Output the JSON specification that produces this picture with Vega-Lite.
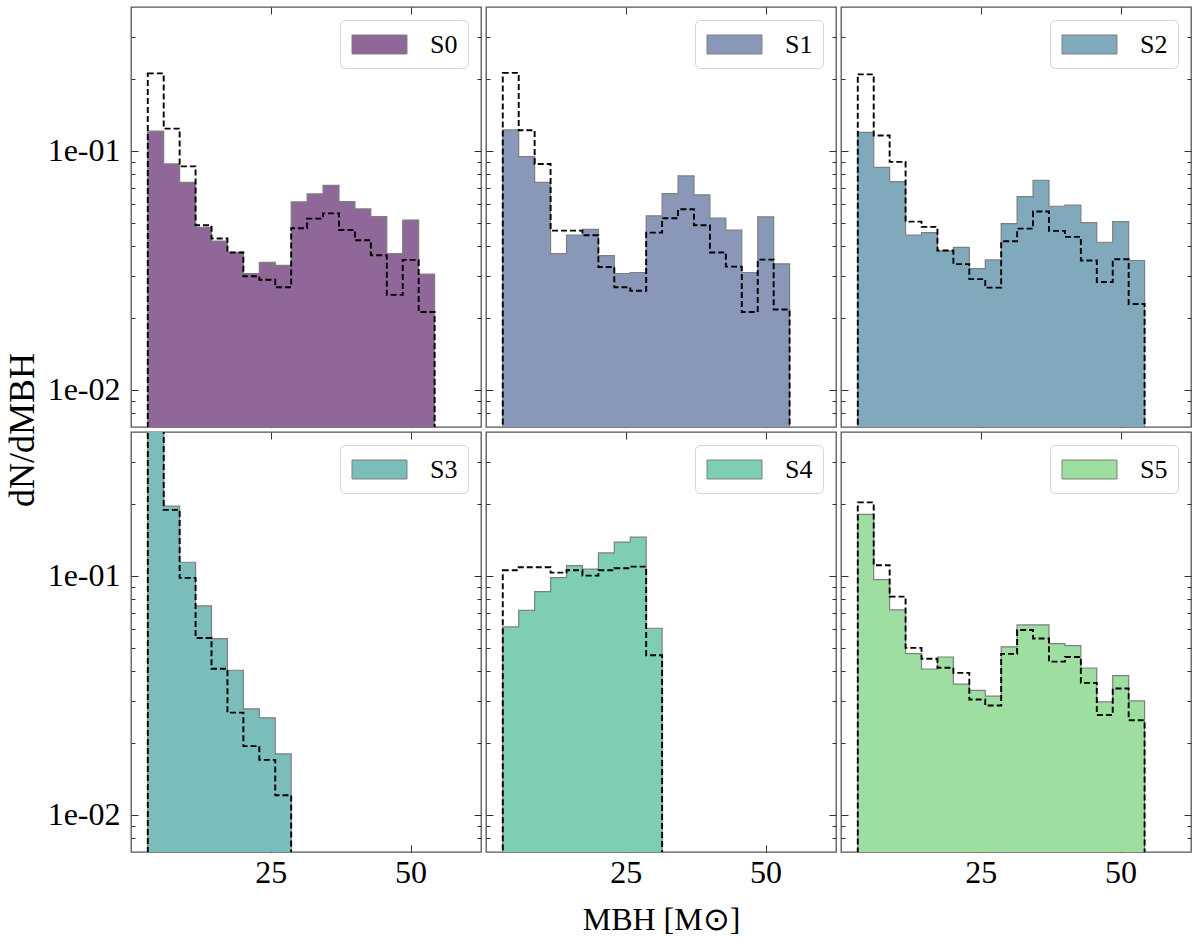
{
  "$schema": "https://vega.github.io/schema/vega-lite/v6.json",
  "background": "white",
  "padding": {"left": 3, "top": 5, "right": 9, "bottom": 8},
  "data": {
    "values": [
      {"run": "S0", "mass": 3, "hist": 0.121, "ref": 0.211},
      {"run": "S0", "mass": 5.85, "hist": 0.0882, "ref": 0.124},
      {"run": "S0", "mass": 8.7, "hist": 0.0739, "ref": 0.0862},
      {"run": "S0", "mass": 11.55, "hist": 0.0479, "ref": 0.0489},
      {"run": "S0", "mass": 14.4, "hist": 0.042, "ref": 0.043},
      {"run": "S0", "mass": 17.25, "hist": 0.0376, "ref": 0.0376},
      {"run": "S0", "mass": 20.1, "hist": 0.0307, "ref": 0.0299},
      {"run": "S0", "mass": 22.95, "hist": 0.0342, "ref": 0.0289},
      {"run": "S0", "mass": 25.8, "hist": 0.0332, "ref": 0.0269},
      {"run": "S0", "mass": 28.65, "hist": 0.0612, "ref": 0.0475},
      {"run": "S0", "mass": 31.5, "hist": 0.0661, "ref": 0.0521},
      {"run": "S0", "mass": 34.35, "hist": 0.0718, "ref": 0.0548},
      {"run": "S0", "mass": 37.2, "hist": 0.0614, "ref": 0.0467},
      {"run": "S0", "mass": 40.05, "hist": 0.0572, "ref": 0.0423},
      {"run": "S0", "mass": 42.9, "hist": 0.0531, "ref": 0.0366},
      {"run": "S0", "mass": 45.75, "hist": 0.0372, "ref": 0.025},
      {"run": "S0", "mass": 48.6, "hist": 0.0514, "ref": 0.035},
      {"run": "S0", "mass": 51.45, "hist": 0.0305, "ref": 0.0212},
      {"run": "S0", "mass": 54.3, "hist": 0.001, "ref": 0.001},

      {"run": "S1", "mass": 3, "hist": 0.1224, "ref": 0.212},
      {"run": "S1", "mass": 5.85, "hist": 0.0947, "ref": 0.122},
      {"run": "S1", "mass": 8.7, "hist": 0.0739, "ref": 0.0882},
      {"run": "S1", "mass": 11.55, "hist": 0.0372, "ref": 0.0464},
      {"run": "S1", "mass": 14.4, "hist": 0.0445, "ref": 0.0464},
      {"run": "S1", "mass": 17.25, "hist": 0.047, "ref": 0.0444},
      {"run": "S1", "mass": 20.1, "hist": 0.0365, "ref": 0.0327},
      {"run": "S1", "mass": 22.95, "hist": 0.0307, "ref": 0.0269},
      {"run": "S1", "mass": 25.8, "hist": 0.031, "ref": 0.026},
      {"run": "S1", "mass": 28.65, "hist": 0.0535, "ref": 0.0455},
      {"run": "S1", "mass": 31.5, "hist": 0.0663, "ref": 0.0523},
      {"run": "S1", "mass": 34.35, "hist": 0.0786, "ref": 0.057},
      {"run": "S1", "mass": 37.2, "hist": 0.0655, "ref": 0.0489},
      {"run": "S1", "mass": 40.05, "hist": 0.0523, "ref": 0.0376},
      {"run": "S1", "mass": 42.9, "hist": 0.0466, "ref": 0.0328},
      {"run": "S1", "mass": 45.75, "hist": 0.031, "ref": 0.0212},
      {"run": "S1", "mass": 48.6, "hist": 0.053, "ref": 0.0351},
      {"run": "S1", "mass": 51.45, "hist": 0.0337, "ref": 0.0217},
      {"run": "S1", "mass": 54.3, "hist": 0.001, "ref": 0.001},

      {"run": "S2", "mass": 3, "hist": 0.1196, "ref": 0.209},
      {"run": "S2", "mass": 5.85, "hist": 0.0854, "ref": 0.116},
      {"run": "S2", "mass": 8.7, "hist": 0.0744, "ref": 0.09},
      {"run": "S2", "mass": 11.55, "hist": 0.0445, "ref": 0.0506},
      {"run": "S2", "mass": 14.4, "hist": 0.0455, "ref": 0.0481},
      {"run": "S2", "mass": 17.25, "hist": 0.0382, "ref": 0.0383},
      {"run": "S2", "mass": 20.1, "hist": 0.0395, "ref": 0.0336},
      {"run": "S2", "mass": 22.95, "hist": 0.0322, "ref": 0.0291},
      {"run": "S2", "mass": 25.8, "hist": 0.035, "ref": 0.0268},
      {"run": "S2", "mass": 28.65, "hist": 0.0496, "ref": 0.0419},
      {"run": "S2", "mass": 31.5, "hist": 0.0644, "ref": 0.0473},
      {"run": "S2", "mass": 34.35, "hist": 0.0754, "ref": 0.0558},
      {"run": "S2", "mass": 37.2, "hist": 0.0587, "ref": 0.0463},
      {"run": "S2", "mass": 40.05, "hist": 0.0594, "ref": 0.0437},
      {"run": "S2", "mass": 42.9, "hist": 0.0501, "ref": 0.0348},
      {"run": "S2", "mass": 45.75, "hist": 0.0415, "ref": 0.0283},
      {"run": "S2", "mass": 48.6, "hist": 0.0506, "ref": 0.0352},
      {"run": "S2", "mass": 51.45, "hist": 0.0348, "ref": 0.0229},
      {"run": "S2", "mass": 54.3, "hist": 0.001, "ref": 0.001},

      {"run": "S3", "mass": 3, "hist": 0.55, "ref": 0.6},
      {"run": "S3", "mass": 5.85, "hist": 0.1957, "ref": 0.189},
      {"run": "S3", "mass": 8.7, "hist": 0.1141, "ref": 0.0981},
      {"run": "S3", "mass": 11.55, "hist": 0.0749, "ref": 0.055},
      {"run": "S3", "mass": 14.4, "hist": 0.0547, "ref": 0.0409},
      {"run": "S3", "mass": 17.25, "hist": 0.0403, "ref": 0.0268},
      {"run": "S3", "mass": 20.1, "hist": 0.0278, "ref": 0.0194},
      {"run": "S3", "mass": 22.95, "hist": 0.0255, "ref": 0.017},
      {"run": "S3", "mass": 25.8, "hist": 0.018, "ref": 0.0121},
      {"run": "S3", "mass": 28.65, "hist": 0.001, "ref": 0.001},

      {"run": "S4", "mass": 3, "hist": 0.0612, "ref": 0.1056},
      {"run": "S4", "mass": 5.85, "hist": 0.0718, "ref": 0.1087},
      {"run": "S4", "mass": 8.7, "hist": 0.086, "ref": 0.1087},
      {"run": "S4", "mass": 11.55, "hist": 0.0984, "ref": 0.1032},
      {"run": "S4", "mass": 14.4, "hist": 0.1105, "ref": 0.1056},
      {"run": "S4", "mass": 17.25, "hist": 0.1067, "ref": 0.1003},
      {"run": "S4", "mass": 20.1, "hist": 0.1248, "ref": 0.1056},
      {"run": "S4", "mass": 22.95, "hist": 0.1384, "ref": 0.1077},
      {"run": "S4", "mass": 25.8, "hist": 0.1452, "ref": 0.1094},
      {"run": "S4", "mass": 28.65, "hist": 0.0604, "ref": 0.0466},
      {"run": "S4", "mass": 31.5, "hist": 0.001, "ref": 0.001},

      {"run": "S5", "mass": 3, "hist": 0.181, "ref": 0.203},
      {"run": "S5", "mass": 5.85, "hist": 0.0965, "ref": 0.1108},
      {"run": "S5", "mass": 8.7, "hist": 0.0721, "ref": 0.0819},
      {"run": "S5", "mass": 11.55, "hist": 0.0473, "ref": 0.05},
      {"run": "S5", "mass": 14.4, "hist": 0.0408, "ref": 0.045},
      {"run": "S5", "mass": 17.25, "hist": 0.0458, "ref": 0.0413},
      {"run": "S5", "mass": 20.1, "hist": 0.0353, "ref": 0.0393},
      {"run": "S5", "mass": 22.95, "hist": 0.0332, "ref": 0.0304},
      {"run": "S5", "mass": 25.8, "hist": 0.0314, "ref": 0.0287},
      {"run": "S5", "mass": 28.65, "hist": 0.0505, "ref": 0.0472},
      {"run": "S5", "mass": 31.5, "hist": 0.0624, "ref": 0.0594},
      {"run": "S5", "mass": 34.35, "hist": 0.0624, "ref": 0.0547},
      {"run": "S5", "mass": 37.2, "hist": 0.0521, "ref": 0.0438},
      {"run": "S5", "mass": 40.05, "hist": 0.0511, "ref": 0.0458},
      {"run": "S5", "mass": 42.9, "hist": 0.0412, "ref": 0.0357},
      {"run": "S5", "mass": 45.75, "hist": 0.0297, "ref": 0.0262},
      {"run": "S5", "mass": 48.6, "hist": 0.0383, "ref": 0.0338},
      {"run": "S5", "mass": 51.45, "hist": 0.03, "ref": 0.0249},
      {"run": "S5", "mass": 54.3, "hist": 0.001, "ref": 0.001}
    ]
  },
  "columns": 3,
  "spacing": {"row": 5, "column": 5},
  "bounds": "flush",
  "resolve": {"scale": {"fill": "independent"}, "legend": {"fill": "independent"}},
  "concat": [
    {
      "width": 350,
      "height": 420,
      "transform": [{"filter": "datum.run === 'S0'"}],
      "layer": [
        {
          "mark": {"type": "area", "interpolate": "step-after", "stroke": "#7f7f7f", "strokeWidth": 1.2, "clip": true},
          "encoding": {
            "x": {"field": "mass", "type": "quantitative", "scale": {"domain": [0, 62.6], "nice": false, "zero": false},
                  "axis": {"orient": "bottom", "values": [25, 50], "tickSize": -7, "labels": false, "title": null}},
            "y": {"field": "hist", "type": "quantitative", "stack": null, "scale": {"type": "log", "domain": [0.007, 0.4], "nice": false},
                  "axis": {"orient": "left", "values": [0.008, 0.009, 0.01, 0.02, 0.03, 0.04, 0.05, 0.06, 0.07, 0.08, 0.09, 0.1, 0.2, 0.3],
                           "tickSize": {"condition": {"test": "datum.value == 0.1 || datum.value == 0.01", "value": -7}, "value": -4},
                           "labelExpr": "datum.value == 0.1 ? '1e-01' : datum.value == 0.01 ? '1e-02' : ''",
                           "labelOverlap": false, "labelPadding": 18, "labels": true, "title": null}},
            "y2": {"datum": 0.001},
            "fill": {"datum": "S0", "scale": {"range": ["#8f6798"]}, "legend": {"title": null}}
          }
        },
        {
          "mark": {"type": "area", "interpolate": "step-after", "fillOpacity": 0, "stroke": "black", "strokeWidth": 1.9, "strokeDash": [6, 3], "clip": true},
          "encoding": {
            "x": {"field": "mass", "type": "quantitative", "axis": {"orient": "top", "values": [25, 50], "tickSize": -7, "labels": false, "title": null}},
            "y": {"field": "ref", "type": "quantitative", "stack": null,
                  "axis": {"orient": "right", "values": [0.008, 0.009, 0.01, 0.02, 0.03, 0.04, 0.05, 0.06, 0.07, 0.08, 0.09, 0.1, 0.2, 0.3],
                           "tickSize": {"condition": {"test": "datum.value == 0.1 || datum.value == 0.01", "value": -7}, "value": -4},
                           "labels": false, "title": null}},
            "y2": {"datum": 0.001}
          }
        }
      ],
      "resolve": {"axis": {"x": "independent", "y": "independent"}}
    },
    {
      "width": 350,
      "height": 420,
      "transform": [{"filter": "datum.run === 'S1'"}],
      "layer": [
        {
          "mark": {"type": "area", "interpolate": "step-after", "stroke": "#7f7f7f", "strokeWidth": 1.2, "clip": true},
          "encoding": {
            "x": {"field": "mass", "type": "quantitative", "scale": {"domain": [0, 62.6], "nice": false, "zero": false},
                  "axis": {"orient": "bottom", "values": [25, 50], "tickSize": -7, "labels": false, "title": null}},
            "y": {"field": "hist", "type": "quantitative", "stack": null, "scale": {"type": "log", "domain": [0.007, 0.4], "nice": false},
                  "axis": {"orient": "left", "values": [0.008, 0.009, 0.01, 0.02, 0.03, 0.04, 0.05, 0.06, 0.07, 0.08, 0.09, 0.1, 0.2, 0.3],
                           "tickSize": {"condition": {"test": "datum.value == 0.1 || datum.value == 0.01", "value": -7}, "value": -4},
                           "labels": false, "title": null}},
            "y2": {"datum": 0.001},
            "fill": {"datum": "S1", "scale": {"range": ["#8997b9"]}, "legend": {"title": null}}
          }
        },
        {
          "mark": {"type": "area", "interpolate": "step-after", "fillOpacity": 0, "stroke": "black", "strokeWidth": 1.9, "strokeDash": [6, 3], "clip": true},
          "encoding": {
            "x": {"field": "mass", "type": "quantitative", "axis": {"orient": "top", "values": [25, 50], "tickSize": -7, "labels": false, "title": null}},
            "y": {"field": "ref", "type": "quantitative", "stack": null,
                  "axis": {"orient": "right", "values": [0.008, 0.009, 0.01, 0.02, 0.03, 0.04, 0.05, 0.06, 0.07, 0.08, 0.09, 0.1, 0.2, 0.3],
                           "tickSize": {"condition": {"test": "datum.value == 0.1 || datum.value == 0.01", "value": -7}, "value": -4},
                           "labels": false, "title": null}},
            "y2": {"datum": 0.001}
          }
        }
      ],
      "resolve": {"axis": {"x": "independent", "y": "independent"}}
    },
    {
      "width": 350,
      "height": 420,
      "transform": [{"filter": "datum.run === 'S2'"}],
      "layer": [
        {
          "mark": {"type": "area", "interpolate": "step-after", "stroke": "#7f7f7f", "strokeWidth": 1.2, "clip": true},
          "encoding": {
            "x": {"field": "mass", "type": "quantitative", "scale": {"domain": [0, 62.6], "nice": false, "zero": false},
                  "axis": {"orient": "bottom", "values": [25, 50], "tickSize": -7, "labels": false, "title": null}},
            "y": {"field": "hist", "type": "quantitative", "stack": null, "scale": {"type": "log", "domain": [0.007, 0.4], "nice": false},
                  "axis": {"orient": "left", "values": [0.008, 0.009, 0.01, 0.02, 0.03, 0.04, 0.05, 0.06, 0.07, 0.08, 0.09, 0.1, 0.2, 0.3],
                           "tickSize": {"condition": {"test": "datum.value == 0.1 || datum.value == 0.01", "value": -7}, "value": -4},
                           "labels": false, "title": null}},
            "y2": {"datum": 0.001},
            "fill": {"datum": "S2", "scale": {"range": ["#80aabb"]}, "legend": {"title": null}}
          }
        },
        {
          "mark": {"type": "area", "interpolate": "step-after", "fillOpacity": 0, "stroke": "black", "strokeWidth": 1.9, "strokeDash": [6, 3], "clip": true},
          "encoding": {
            "x": {"field": "mass", "type": "quantitative", "axis": {"orient": "top", "values": [25, 50], "tickSize": -7, "labels": false, "title": null}},
            "y": {"field": "ref", "type": "quantitative", "stack": null,
                  "axis": {"orient": "right", "values": [0.008, 0.009, 0.01, 0.02, 0.03, 0.04, 0.05, 0.06, 0.07, 0.08, 0.09, 0.1, 0.2, 0.3],
                           "tickSize": {"condition": {"test": "datum.value == 0.1 || datum.value == 0.01", "value": -7}, "value": -4},
                           "labels": false, "title": null}},
            "y2": {"datum": 0.001}
          }
        }
      ],
      "resolve": {"axis": {"x": "independent", "y": "independent"}}
    },
    {
      "width": 350,
      "height": 420,
      "transform": [{"filter": "datum.run === 'S3'"}],
      "layer": [
        {
          "mark": {"type": "area", "interpolate": "step-after", "stroke": "#7f7f7f", "strokeWidth": 1.2, "clip": true},
          "encoding": {
            "x": {"field": "mass", "type": "quantitative", "scale": {"domain": [0, 62.6], "nice": false, "zero": false},
                  "axis": {"orient": "bottom", "values": [25, 50], "tickSize": -7, "labelPadding": 12, "labels": true, "title": null}},
            "y": {"field": "hist", "type": "quantitative", "stack": null, "scale": {"type": "log", "domain": [0.007, 0.4], "nice": false},
                  "axis": {"orient": "left", "values": [0.008, 0.009, 0.01, 0.02, 0.03, 0.04, 0.05, 0.06, 0.07, 0.08, 0.09, 0.1, 0.2, 0.3],
                           "tickSize": {"condition": {"test": "datum.value == 0.1 || datum.value == 0.01", "value": -7}, "value": -4},
                           "labelExpr": "datum.value == 0.1 ? '1e-01' : datum.value == 0.01 ? '1e-02' : ''",
                           "labelOverlap": false, "labelPadding": 18, "labels": true,
                           "title": "dN/dMBH", "titleFontSize": 36, "titleAngle": -90, "titleAlign": "center", "titleBaseline": "middle",
                           "titleX": -109, "titleY": -2.5}},
            "y2": {"datum": 0.001},
            "fill": {"datum": "S3", "scale": {"range": ["#7abdba"]}, "legend": {"title": null}}
          }
        },
        {
          "mark": {"type": "area", "interpolate": "step-after", "fillOpacity": 0, "stroke": "black", "strokeWidth": 1.9, "strokeDash": [6, 3], "clip": true},
          "encoding": {
            "x": {"field": "mass", "type": "quantitative", "axis": {"orient": "top", "values": [25, 50], "tickSize": -7, "labels": false, "title": null}},
            "y": {"field": "ref", "type": "quantitative", "stack": null,
                  "axis": {"orient": "right", "values": [0.008, 0.009, 0.01, 0.02, 0.03, 0.04, 0.05, 0.06, 0.07, 0.08, 0.09, 0.1, 0.2, 0.3],
                           "tickSize": {"condition": {"test": "datum.value == 0.1 || datum.value == 0.01", "value": -7}, "value": -4},
                           "labels": false, "title": null}},
            "y2": {"datum": 0.001}
          }
        }
      ],
      "resolve": {"axis": {"x": "independent", "y": "independent"}}
    },
    {
      "width": 350,
      "height": 420,
      "transform": [{"filter": "datum.run === 'S4'"}],
      "layer": [
        {
          "mark": {"type": "area", "interpolate": "step-after", "stroke": "#7f7f7f", "strokeWidth": 1.2, "clip": true},
          "encoding": {
            "x": {"field": "mass", "type": "quantitative", "scale": {"domain": [0, 62.6], "nice": false, "zero": false},
                  "axis": {"orient": "bottom", "values": [25, 50], "tickSize": -7, "labelPadding": 12, "labels": true,
                           "title": "MBH [M⊙]", "titlePadding": 16}},
            "y": {"field": "hist", "type": "quantitative", "stack": null, "scale": {"type": "log", "domain": [0.007, 0.4], "nice": false},
                  "axis": {"orient": "left", "values": [0.008, 0.009, 0.01, 0.02, 0.03, 0.04, 0.05, 0.06, 0.07, 0.08, 0.09, 0.1, 0.2, 0.3],
                           "tickSize": {"condition": {"test": "datum.value == 0.1 || datum.value == 0.01", "value": -7}, "value": -4},
                           "labels": false, "title": null}},
            "y2": {"datum": 0.001},
            "fill": {"datum": "S4", "scale": {"range": ["#7eceb3"]}, "legend": {"title": null}}
          }
        },
        {
          "mark": {"type": "area", "interpolate": "step-after", "fillOpacity": 0, "stroke": "black", "strokeWidth": 1.9, "strokeDash": [6, 3], "clip": true},
          "encoding": {
            "x": {"field": "mass", "type": "quantitative", "axis": {"orient": "top", "values": [25, 50], "tickSize": -7, "labels": false, "title": null}},
            "y": {"field": "ref", "type": "quantitative", "stack": null,
                  "axis": {"orient": "right", "values": [0.008, 0.009, 0.01, 0.02, 0.03, 0.04, 0.05, 0.06, 0.07, 0.08, 0.09, 0.1, 0.2, 0.3],
                           "tickSize": {"condition": {"test": "datum.value == 0.1 || datum.value == 0.01", "value": -7}, "value": -4},
                           "labels": false, "title": null}},
            "y2": {"datum": 0.001}
          }
        }
      ],
      "resolve": {"axis": {"x": "independent", "y": "independent"}}
    },
    {
      "width": 350,
      "height": 420,
      "transform": [{"filter": "datum.run === 'S5'"}],
      "layer": [
        {
          "mark": {"type": "area", "interpolate": "step-after", "stroke": "#7f7f7f", "strokeWidth": 1.2, "clip": true},
          "encoding": {
            "x": {"field": "mass", "type": "quantitative", "scale": {"domain": [0, 62.6], "nice": false, "zero": false},
                  "axis": {"orient": "bottom", "values": [25, 50], "tickSize": -7, "labelPadding": 12, "labels": true, "title": null}},
            "y": {"field": "hist", "type": "quantitative", "stack": null, "scale": {"type": "log", "domain": [0.007, 0.4], "nice": false},
                  "axis": {"orient": "left", "values": [0.008, 0.009, 0.01, 0.02, 0.03, 0.04, 0.05, 0.06, 0.07, 0.08, 0.09, 0.1, 0.2, 0.3],
                           "tickSize": {"condition": {"test": "datum.value == 0.1 || datum.value == 0.01", "value": -7}, "value": -4},
                           "labels": false, "title": null}},
            "y2": {"datum": 0.001},
            "fill": {"datum": "S5", "scale": {"range": ["#9edfa1"]}, "legend": {"title": null}}
          }
        },
        {
          "mark": {"type": "area", "interpolate": "step-after", "fillOpacity": 0, "stroke": "black", "strokeWidth": 1.9, "strokeDash": [6, 3], "clip": true},
          "encoding": {
            "x": {"field": "mass", "type": "quantitative", "axis": {"orient": "top", "values": [25, 50], "tickSize": -7, "labels": false, "title": null}},
            "y": {"field": "ref", "type": "quantitative", "stack": null,
                  "axis": {"orient": "right", "values": [0.008, 0.009, 0.01, 0.02, 0.03, 0.04, 0.05, 0.06, 0.07, 0.08, 0.09, 0.1, 0.2, 0.3],
                           "tickSize": {"condition": {"test": "datum.value == 0.1 || datum.value == 0.01", "value": -7}, "value": -4},
                           "labels": false, "title": null}},
            "y2": {"datum": 0.001}
          }
        }
      ],
      "resolve": {"axis": {"x": "independent", "y": "independent"}}
    }
  ],
  "config": {
    "font": "Liberation Serif",
    "view": {"stroke": "#555555", "strokeWidth": 1.3},
    "axis": {
      "domain": false,
      "grid": false,
      "minExtent": 0,
      "tickColor": "#333333",
      "tickWidth": 1,
      "labelFont": "Liberation Serif",
      "labelFontSize": 32,
      "labelColor": "black",
      "titleFont": "Liberation Serif",
      "titleFontSize": 32,
      "titleFontWeight": "normal",
      "titleColor": "black"
    },
    "legend": {
      "orient": "top-right",
      "offset": 13,
      "padding": 10,
      "fillColor": "white",
      "strokeColor": "#d6d6d6",
      "strokeWidth": 1,
      "cornerRadius": 5,
      "symbolType": "M-2,-0.69L2,-0.69L2,0.69L-2,0.69Z",
      "symbolSize": 756,
      "symbolOffset": 15,
      "symbolStrokeColor": "#7f7f7f",
      "symbolStrokeWidth": 1,
      "symbolOpacity": 1,
      "labelFont": "Liberation Serif",
      "labelFontSize": 26,
      "labelColor": "black",
      "labelOffset": 36
    }
  }
}
